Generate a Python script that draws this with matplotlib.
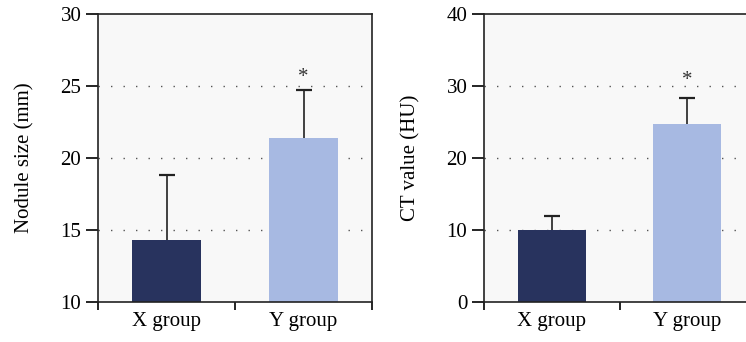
import numpy as np
from matplotlib import pyplot as plt

groups = ['X group', 'Y group']

nodule_mean = [14.3, 21.4]
nodule_err = [4.55, 3.3]

ct_mean = [10.0, 24.7]
ct_err = [1.95, 3.6]

colors = ['#28335e', '#a7b9e2']

plt.rcParams['font.family'] = ['Liberation Serif', 'DejaVu Serif']
plt.rcParams['font.size'] = 15

fig = plt.figure(figsize=(7.46, 3.42), dpi=100)

ax1 = fig.add_axes([98 / 746, 40 / 342, 274 / 746, 288 / 342])
ax2 = fig.add_axes([484 / 746, 40 / 342, 271 / 746, 288 / 342])


def draw_panel(ax, means, errs, ylim, yticks, ylabel, star_y):
    x = np.arange(len(groups))
    ax.set_facecolor('#f8f8f8')
    for yt in yticks[1:-1]:
        ax.axhline(yt, color='#555555', linestyle=(0, (1, 8)), linewidth=1.0, zorder=1)
    ax.bar(x, means, width=0.5, color=colors, zorder=2)
    # upper error only
    _, caps, _ = ax.errorbar(x, means, yerr=[np.zeros(len(errs)), errs], fmt='none',
                             ecolor='#222222', elinewidth=1.2, capsize=5.5, capthick=1.6, zorder=3)
    caps[0].set_visible(False)
    ax.text(1, star_y, '*', ha='center', va='center', fontsize=15, color='#333333')
    ax.set_xlim(-0.5, 1.5)
    ax.set_ylim(*ylim)
    ax.set_yticks(yticks)
    ax.set_xticks([-0.5, 0.5, 1.5])
    ax.set_xticklabels([])
    ax.set_xticks(x, minor=True)
    ax.set_xticklabels(groups, minor=True)
    ax.tick_params(axis='x', which='minor', length=0, pad=7)
    ax.tick_params(axis='x', which='major', length=6, width=1.2, direction='out')
    ax.tick_params(axis='y', length=9, width=1.2, direction='out', pad=3)
    for s in ax.spines.values():
        s.set_linewidth(1.2)
        s.set_color('#222222')
    ax.set_ylabel(ylabel, labelpad=19)


draw_panel(ax1, nodule_mean, nodule_err, (10, 30), [10, 15, 20, 25, 30], 'Nodule size (mm)', 25.6)
draw_panel(ax2, ct_mean, ct_err, (0, 40), [0, 10, 20, 30, 40], 'CT value (HU)', 30.8)

fig.savefig('out.png', dpi=100)
